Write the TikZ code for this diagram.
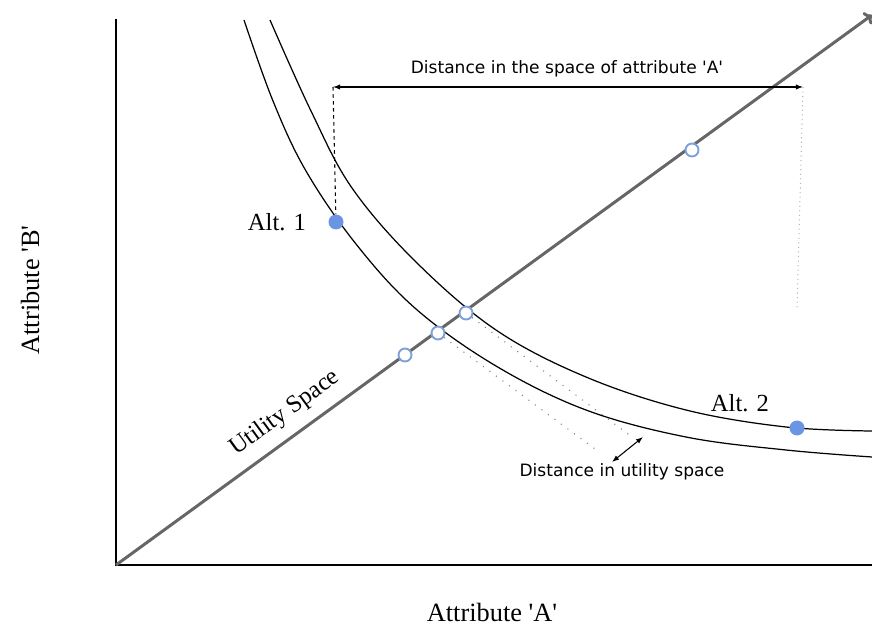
\documentclass[tikz,border=0pt]{standalone}
\usepackage{fontspec}
\setmainfont{Liberation Serif}
\newfontfamily\notefont{DejaVu Sans}
\usetikzlibrary{arrows.meta}
\definecolor{altblue}{HTML}{6B95E3}
\definecolor{ringblue}{HTML}{7F9FDB}
\tikzset{
  altdot/.style={circle,fill=altblue,inner sep=0pt,minimum size=0.3cm},
  ring/.style={circle,draw=ringblue,fill=white,line width=1.1pt,inner sep=0pt,minimum size=0.26cm},
  isocurve/.style={line width=0.7pt},
  guide/.style={gray,line width=0.6pt,dash pattern=on 0.6pt off 4pt},
  note/.style={font=\notefont\fontsize{9.7}{11}\selectfont},
  axislabel/.style={font=\fontsize{15}{17}\selectfont},
  altlabel/.style={font=\fontsize{14}{16}\selectfont}
}
\begin{document}
\begin{tikzpicture}[x=0.02cm,y=0.02cm]
\useasboundingbox (-116,-71) rectangle (756,565);
% axes
\coordinate (o) at (0,0);
\coordinate (ytop) at (0,546);
\coordinate (xend) at (756,0);
\draw[line width=0.9pt] (ytop) -- (o) -- (xend);
% utility space diagonal
\coordinate (utop) at (756,550);
\draw[gray!80!black,line width=1.7pt,-{To[length=4pt]}] (o) -- (utop);
% indifference curves
\draw[isocurve] plot[smooth,tension=0.6] coordinates {(128,545) (157,464) (190,394) (240,321) (300,256) (380,199) (470,155) (570,128) (670,115) (756,108)};
\draw[isocurve] plot[smooth,tension=0.6] coordinates {(154,545) (195,454) (236,377) (300,303) (380,235) (470,188) (570,155) (670,138) (756,134)};
% distance in attribute space
\coordinate (dl) at (217,478);
\coordinate (dr) at (687,478);
\draw[line width=0.6pt,{Latex[length=4pt,width=3pt]}-{Latex[length=4pt,width=3pt]}] (dl) -- (dr);
\node[note,above] (dA) at (451,482) {Distance in the space of attribute 'A'};
% alternatives
\node[altdot] (alt1) at (220,343) {};
\node[altdot] (alt2) at (681,137) {};
\draw[line width=0.6pt,dash pattern=on 2pt off 2pt] (dl) -- (alt1);
\draw[gray!60,line width=0.6pt,dotted] (dr) -- (681,255);
\node[altlabel] (lalt1) at (161,343) {Alt. 1};
\node[altlabel] (lalt2) at (624,162) {Alt. 2};
% points on utility space
\node[ring] (u0) at (289,210) {};
\node[ring] (u1) at (322,232) {};
\node[ring] (u2) at (350,252) {};
\node[ring] (u3) at (576,415) {};
% distance in utility space
\coordinate (da) at (496,103);
\coordinate (db) at (527,128);
\draw[guide] (u1) -- (479,116);
\draw[guide] (u2) -- (516,128);
\draw[line width=0.6pt,{Latex[length=4pt,width=3pt]}-{Latex[length=4pt,width=3pt]}] (da) -- (db);
\node[note] (dU) at (506,93) {Distance in utility space};
% labels
\node[altlabel,rotate=36] (us) at (169,152) {Utility Space};
\node[axislabel,rotate=90] (lb) at (-86,275) {Attribute \textquotesingle B\textquotesingle};
\node[axislabel] (la) at (376,-47) {Attribute \textquotesingle A\textquotesingle};
\end{tikzpicture}
\end{document}
